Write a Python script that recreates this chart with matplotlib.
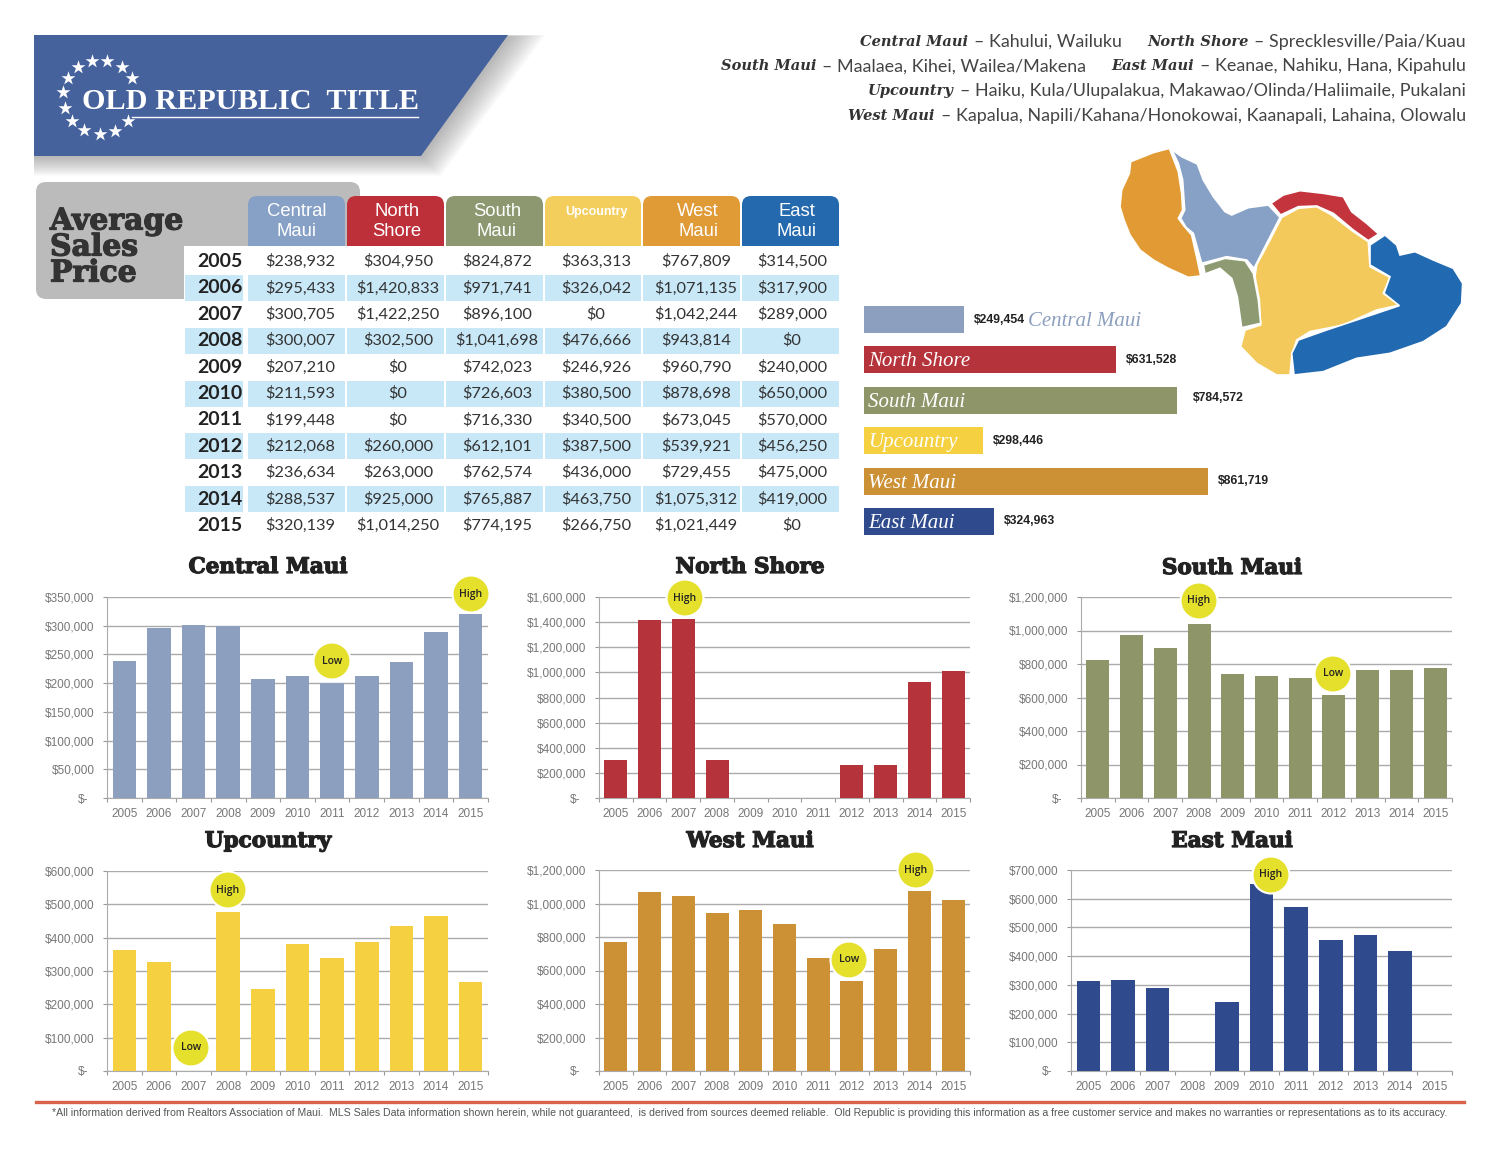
import matplotlib
matplotlib.use('Agg')
import matplotlib.pyplot as plt
import matplotlib.patheffects as pe
from matplotlib.patches import Polygon, Rectangle, FancyBboxPatch, Circle
from matplotlib.transforms import ScaledTranslation

W, H = 1500, 1159

years = [2005, 2006, 2007, 2008, 2009, 2010, 2011, 2012, 2013, 2014, 2015]
central = [238932, 295433, 300705, 300007, 207210, 211593, 199448, 212068, 236634, 288537, 320139]
north = [304950, 1420833, 1422250, 302500, 0, 0, 0, 260000, 263000, 925000, 1014250]
south = [824872, 971741, 896100, 1041698, 742023, 726603, 716330, 612101, 762574, 765887, 774195]
upcountry = [363313, 326042, 0, 476666, 246926, 380500, 340500, 387500, 436000, 463750, 266750]
west = [767809, 1071135, 1042244, 943814, 960790, 878698, 673045, 539921, 729455, 1075312, 1021449]
east = [314500, 317900, 289000, 0, 240000, 650000, 570000, 456250, 475000, 419000, 0]

avg_names = ['Central Maui', 'North Shore', 'South Maui', 'Upcountry', 'West Maui', 'East Maui']
avg_values = [249454, 631528, 784572, 298446, 861719, 324963]

bar_colors = ['#8C9FBE', '#B5333B', '#8E9669', '#F5D040', '#CC9035', '#2F4A8D']
head_colors = ['#87A0C6', '#BE3039', '#8D9770', '#F3CE5C', '#E09A36', '#2468AE']

SLAB = 'DejaVu Serif'
SANS = 'Liberation Sans'

fig = plt.figure(figsize=(W / 100, H / 100), dpi=100, facecolor='white')


def pix_axes(l, t, r, b):
    return fig.add_axes([l / W, 1 - b / H, (r - l) / W, (b - t) / H])


def heavy(col):
    return [pe.withStroke(linewidth=0.9, foreground=col)]


ov = fig.add_axes([0, 0, 1, 1], zorder=5)
ov.set_xlim(0, W)
ov.set_ylim(H, 0)
ov.axis('off')
ov.patch.set_visible(False)

# banner with soft shadow
for k in range(12):
    d = 2 + k * 1.6
    ov.add_patch(Polygon([(34, 35 + d), (508 + d * 1.9, 35), (421 + d, 156 + d), (34, 156 + d)],
                         fc='#555555', ec='none', alpha=0.04, zorder=1))
ov.add_patch(Polygon([(34, 35), (508, 35), (421, 156), (34, 156)], fc='#46629D', ec='none', zorder=2))
star_x = [210, 253, 295, 325, 140, 168, 125, 130, 152, 187, 232, 275, 312]
star_y = [122, 122, 140, 175, 175, 140, 217, 265, 303, 330, 342, 332, 303]
ov.scatter([20 + x / 2.9 for x in star_x], [20 + y / 3 for y in star_y], marker='*', s=110,
           c='white', linewidths=0, zorder=3)
ov.text(82, 109, 'OLD REPUBLIC  TITLE', color='white', family='Liberation Serif', weight='bold',
        fontsize=21.8, va='baseline', ha='left', zorder=3)
ov.plot([132, 418], [117, 117], color='white', lw=1, zorder=3)

# top right key to the regions
key_lines = [
    (42, [('Central Maui', '– Kahului, Wailuku'), ('North Shore', '– Sprecklesville/Paia/Kuau')]),
    (66.5, [('South Maui', '– Maalaea, Kihei, Wailea/Makena'), ('East Maui', '– Keanae, Nahiku, Hana, Kipahulu')]),
    (91, [('Upcountry', '– Haiku, Kula/Ulupalakua, Makawao/Olinda/Haliimaile, Pukalani')]),
    (115.5, [('West Maui', '– Kapalua, Napili/Kahana/Honokowai, Kaanapali, Lahaina, Olowalu')]),
]
renderer = fig.canvas.get_renderer()
for ky, groups in key_lines:
    right = 1466
    for name, desc in reversed(groups):
        t = ov.text(right, ky, desc, ha='right', va='center', family='Lato', fontsize=12.85, color='#444444')
        right -= t.get_window_extent(renderer).width + 6
        t = ov.text(right, ky, name, ha='right', va='center', family=SLAB, style='italic',
                    weight='bold', fontsize=10.5, color='#333333')
        right -= t.get_window_extent(renderer).width + 25

# table
ov.add_patch(FancyBboxPatch((44, 190), 308, 101, boxstyle='round,pad=8,rounding_size=10', fc='#BBBBBB',
                            ec='none', zorder=1))
for i, txt in enumerate(['Average', 'Sales', 'Price']):
    ov.text(50, 221 + i * 26, txt, family=SLAB, weight='bold', fontsize=21.5, color='#333333', va='center',
            zorder=3, path_effects=heavy('#333333'))
col_left = [248, 347, 446, 545, 643, 742]
col_right = [345, 444, 543, 641, 740, 839]
head_x = [297, 397, 497, 597, 698, 797]
head_text = [('Central', 'Maui'), ('North', 'Shore'), ('South', 'Maui'), ('Upcountry', ''), ('West', 'Maui'), ('East', 'Maui')]
for c in range(6):
    ov.add_patch(FancyBboxPatch((col_left[c] + 7, 203), col_right[c] - col_left[c] - 14, 60,
                                boxstyle='round,pad=7,rounding_size=9', fc=head_colors[c], ec='none', zorder=1))
    if head_text[c][1]:
        ov.text(head_x[c], 211, head_text[c][0], ha='center', va='center', family=SANS, fontsize=13.3, color='white', zorder=3)
        ov.text(head_x[c], 231, head_text[c][1], ha='center', va='center', family=SANS, fontsize=13.3, color='white', zorder=3)
    else:
        ov.text(head_x[c], 212, head_text[c][0], ha='center', va='center', family=SANS, weight='bold', fontsize=9, color='white', zorder=3)
ov.add_patch(Rectangle((184, 246), 670, 300, fc='white', ec='none', zorder=2))

table_cols = [central, north, south, upcountry, west, east]
text_x = [300, 398, 497, 596, 696, 792]
for r, yr in enumerate(years):
    ry = 261 + 26.4 * r
    if r % 2 == 1:
        ov.add_patch(Rectangle((185, ry - 12.5), 58, 26, fc='#C8E8F8', ec='none', zorder=2.1))
        for c in range(6):
            ov.add_patch(Rectangle((col_left[c], ry - 12.5), col_right[c] - col_left[c], 26,
                                   fc='#C8E8F8', ec='none', zorder=2.1))
    ov.text(220, ry + 0.5, str(yr), ha='center', va='center', family='Lato', weight='bold', fontsize=14, color='#222222', zorder=3)
    for c in range(6):
        ov.text(text_x[c], ry + 0.5, f'${table_cols[c][r]:,}', ha='center', va='center', family='Lato',
                fontsize=11.8, color='#333333', zorder=3)

# map
map_west = [(178, 25), (130, 38), (62, 65), (58, 100), (35, 150), (30, 200), (42, 240), (60, 285), (90, 330), (130, 360), (175, 385), (235, 412), (272, 408), (262, 360), (245, 285), (222, 258), (205, 235), (218, 210), (215, 160), (205, 95)]
map_central = [(185, 28), (215, 50), (262, 72), (280, 120), (310, 170), (345, 215), (365, 225), (415, 203), (475, 195), (510, 232), (470, 310), (432, 385), (410, 360), (350, 350), (275, 370), (250, 280), (228, 262), (212, 235), (224, 210), (218, 120), (205, 70)]
map_north = [(483, 190), (520, 165), (570, 152), (640, 160), (700, 170), (725, 215), (770, 250), (806, 282), (775, 302), (730, 270), (670, 220), (620, 198), (565, 200), (512, 225)]
map_up = [(515, 232), (565, 205), (620, 200), (665, 225), (730, 275), (775, 305), (780, 380), (840, 412), (820, 460), (868, 495), (800, 510), (700, 555), (600, 575), (560, 600), (545, 650), (540, 705), (500, 705), (440, 670), (392, 620), (405, 570), (452, 555), (448, 480), (435, 410), (440, 375), (480, 300)]
map_south = [(280, 375), (345, 355), (405, 362), (430, 400), (445, 480), (452, 550), (395, 563), (382, 470), (365, 415), (330, 385), (285, 402)]
map_east = [(780, 315), (825, 285), (860, 315), (870, 345), (915, 335), (970, 360), (1030, 385), (1058, 430), (1055, 490), (1010, 560), (940, 605), (840, 640), (740, 655), (640, 695), (552, 705), (545, 640), (565, 600), (650, 570), (740, 540), (868, 497), (822, 460), (840, 410), (780, 375)]
for pts, col in [(map_west, '#E29B34'), (map_central, '#87A1C6'), (map_north, '#C4343D'),
                 (map_up, '#F4C95C'), (map_south, '#8E9B72'), (map_east, '#2169B0')]:
    ov.add_patch(Polygon([(1110 + x / 3, 140 + y / 3) for x, y in pts], fc=col, ec='white', lw=1.2, zorder=2))

# average bars
ax_avg = pix_axes(864, 300, 1464, 541)
ax_avg.barh(range(6), avg_values, height=0.67, color=bar_colors)
ax_avg.set_xlim(0, 1504000)
ax_avg.set_ylim(5.483, -0.483)
ax_avg.axis('off')
avg_gap = [10, 10, 16, 10, 10, 10]
avg_lift = [0, 0, 2, 0, 0, 0]
for i, v in enumerate(avg_values):
    ax_avg.annotate(f'${v:,}', (v, i), xytext=(avg_gap[i] * 0.72, avg_lift[i] * 0.72), textcoords='offset points',
                    va='center', family=SANS, weight='bold', fontsize=8.8, color='#222222')
    if i == 0:
        ax_avg.annotate(avg_names[i], (v, i), xytext=(64 * 0.72, -1.5), textcoords='offset points', va='center',
                        family='Liberation Serif', style='italic', fontsize=15, color='#8C9FBE')
    else:
        ax_avg.annotate(avg_names[i], (0, i), xytext=(4 * 0.72, -1.5), textcoords='offset points', va='center',
                        family='Liberation Serif', style='italic', fontsize=15, color='white')

# the six small charts
chart_titles = ['Central Maui', 'North Shore', 'South Maui', 'Upcountry', 'West Maui', 'East Maui']
chart_data = [central, north, south, upcountry, west, east]
chart_box = [(107, 597, 488, 798), (599, 597, 970, 798), (1081, 597, 1452, 798),
             (107, 871, 488, 1071), (599, 870, 970, 1071), (1071, 870, 1452, 1071)]
chart_top = [350000, 1600000, 1200000, 600000, 1200000, 700000]
chart_step = [50000, 200000, 200000, 100000, 200000, 100000]
title_x = [268, 750, 1232, 268, 750, 1232]
title_y = [567, 567, 568, 841, 841, 841]
for i in range(6):
    ax = pix_axes(*chart_box[i])
    ax.bar(range(11), chart_data[i], width=0.68, color=bar_colors[i], zorder=3)
    ax.set_xlim(-0.5, 10.5)
    ax.set_ylim(0, chart_top[i])
    ax.set_axisbelow(True)
    yt = list(range(0, chart_top[i] + 1, chart_step[i]))
    ax.set_yticks(yt)
    ax.set_yticklabels(['$-' if v == 0 else f'${v:,}' for v in yt], family=SANS, fontsize=8.5, color='#777777')
    ax.set_xticks(range(11))
    ax.set_xticklabels(years, family=SANS, fontsize=8.5, color='#777777')
    ax.set_xticks([k - 0.5 for k in range(12)], minor=True)
    ax.tick_params(axis='x', which='major', length=0, pad=7)
    ax.tick_params(axis='x', which='minor', length=3, color='#999999', width=0.8)
    ax.tick_params(axis='y', length=3, color='#999999', width=0.8, pad=6)
    ax.grid(axis='y', color='#ABABAB', lw=1)
    ax.spines[['top', 'right']].set_visible(False)
    ax.spines[['left', 'bottom']].set_color('#ABABAB')
    lab0 = ax.get_yticklabels()[0]
    lab0.set_transform(lab0.get_transform() + ScaledTranslation(-6 / 100, 0, fig.dpi_scale_trans))
    ov.text(title_x[i], title_y[i], chart_titles[i], ha='center', va='center', family=SLAB, weight='bold',
            fontsize=15.5, color='#222222', path_effects=heavy('#222222'))

badge_x = [471, 332, 685, 1199, 1333, 228, 191, 916, 849, 1271]
badge_y = [594, 661, 598, 601, 674, 890, 1048, 870, 960, 875]
badge_txt = ['High', 'Low', 'High', 'High', 'Low', 'High', 'Low', 'High', 'Low', 'High']
for x, y, s in zip(badge_x, badge_y, badge_txt):
    ov.add_patch(Circle((x, y), 18.5, fc='#E5E02C', ec='white', lw=1.5, zorder=6))
    ov.text(x, y, s, ha='center', va='center', family='Open Sans', weight='semibold', fontsize=7.5, color='#222222', zorder=7)

# footer
ov.plot([36, 1464], [1102, 1102], color='#D9634A', lw=2.4)
footnote = ('*All information derived from Realtors Association of Maui.  MLS Sales Data information shown herein, '
            'while not guaranteed,  is derived from sources deemed reliable.  Old Republic is providing this '
            'information as a free customer service and makes no warranties or representations as to its accuracy.')
ov.text(750, 1113.5, footnote, ha='center', va='center', family=SANS, fontsize=7.6, color='#555555')

fig.savefig('out.png', dpi=100)
